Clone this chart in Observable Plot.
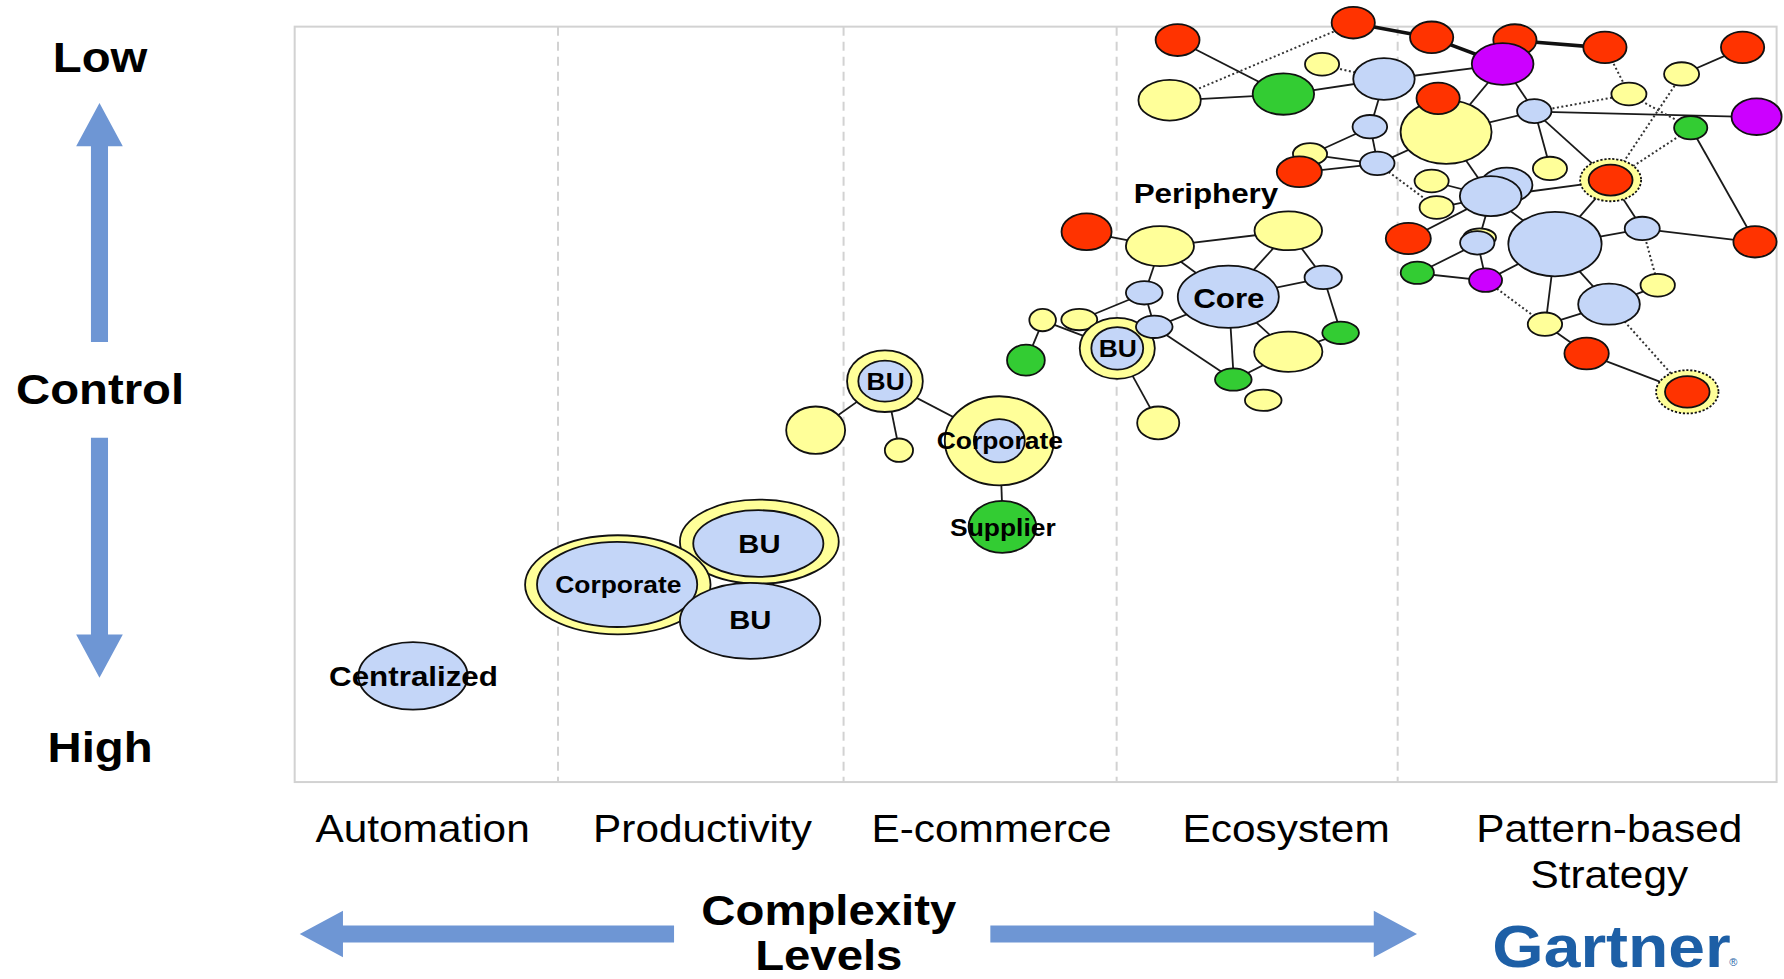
<!DOCTYPE html>
<html><head><meta charset="utf-8">
<script src="https://cdn.jsdelivr.net/npm/d3@7"></script>
<script src="https://cdn.jsdelivr.net/npm/@observablehq/plot@0.6"></script>
<style>html,body{margin:0;padding:0;background:#fff;overflow:hidden}</style>
</head><body><div id="chart"></div>
<script>
// ---------- DATA (chart units: complexity along x, control along y) ----------
const stages = ["Automation", "Productivity", "E-commerce", "Ecosystem", "Pattern-based\nStrategy"];
const stageX = [371, 617, 871, 1130, 1414];
const stageDividers = [490, 741, 981, 1228];
const frameX = [259, 1561.5];
const frameY = [23.4, 687];
const controlLabels = ["Low", "Control", "High"];
const controlY = [51, 342, 657];
const complexityTitle = "Complexity\nLevels";

// nodes: [id, x, y, rx, ry, kind]
const automationNodes = [
  ["cen", 363, 593.7, 48, 29.7, "blue"]
];
const productivityNodes = [
  ["buT_o", 667.4, 475.8, 69.8, 36.9, "yellow"],
  ["buT", 666.5, 477.5, 57.2, 29.3, "blue"],
  ["corp2_o", 543, 513.7, 81.5, 43.5, "yellow"],
  ["corp2", 542.4, 513.4, 70.4, 37.4, "blue"],
  ["buB", 659.3, 545.4, 61.7, 33.3, "blue"]
];
const ecommerceNodes = [
  ["y3a", 716.9, 377.9, 25.9, 20.8, "yellow"],
  ["y3b", 790.1, 395.5, 12.4, 10.3, "yellow"],
  ["bu3_o", 777.8, 334.8, 33.3, 27.1, "yellow"],
  ["bu3", 777.8, 334.8, 23.4, 18, "blue"],
  ["corp3_o", 878.3, 387.2, 47.9, 39.1, "yellow"],
  ["corp3", 878.3, 387.2, 22.4, 19, "blue"],
  ["sup", 881, 462.8, 29.7, 22.8, "green"]
];
const ecosystemNodes = [
  ["r4", 955, 203.6, 22, 16.1, "red"],
  ["y4a", 1019.5, 216.2, 29.9, 17.6, "yellow"],
  ["y4b", 1132.3, 202.7, 29.7, 17.1, "yellow"],
  ["core", 1079.6, 260.7, 44.4, 27.4, "blue"],
  ["b4a", 1005.7, 257.2, 16.1, 10.3, "blue"],
  ["b4b", 1163, 243.7, 16.4, 10.3, "blue"],
  ["y4c", 948.6, 280.7, 15.8, 9.4, "yellow"],
  ["y4d", 916.4, 281.2, 11.7, 9.8, "yellow"],
  ["g4a", 901.7, 316.4, 16.6, 13.6, "green"],
  ["bu4_o", 982, 306, 33, 26.8, "yellow"],
  ["bu4", 982, 306, 22.8, 18.7, "blue"],
  ["b4c", 1014.5, 287.1, 16.1, 9.8, "blue"],
  ["g4b", 1178.3, 292.4, 16.1, 9.8, "green"],
  ["y4e", 1132.3, 309, 30, 17.6, "yellow"],
  ["g4c", 1084, 333.4, 16.1, 9.8, "green"],
  ["y4f", 1110.3, 351.6, 16.1, 9.4, "yellow"],
  ["y4g", 1018, 371.5, 18.5, 14.4, "yellow"]
];
const patternNodes = [
  ["r5a", 1035, 35.2, 19.3, 14, "red"],
  ["y5a", 1028, 88, 27.4, 17.9, "yellow"],
  ["g5a", 1128, 82.6, 27, 18.2, "green"],
  ["r5b", 1189.4, 19.9, 19, 13.9, "red"],
  ["y5b", 1162, 56.5, 15, 10, "yellow"],
  ["b5a", 1216.4, 69.4, 27, 18.3, "blue"],
  ["r5c", 1258.3, 32.8, 19, 13.9, "red"],
  ["r5d", 1331.5, 35.2, 19, 13.9, "red"],
  ["p5a", 1320.7, 56.2, 27.1, 18.3, "purple"],
  ["r5e", 1410.6, 41.6, 19, 13.9, "red"],
  ["r5f", 1531.6, 41.6, 19, 13.9, "red"],
  ["yb5", 1271, 116, 40, 28, "yellow"],
  ["r5g", 1264, 86.4, 19, 13.9, "red"],
  ["b5b", 1204, 111.3, 15.2, 10.3, "blue"],
  ["b5c", 1210.5, 143.5, 15.2, 10.3, "blue"],
  ["y5c", 1151.4, 135.3, 15, 9.5, "yellow"],
  ["r5h", 1142, 150.9, 19.8, 13.5, "red"],
  ["y5d", 1258.3, 159, 15, 10, "yellow"],
  ["y5e", 1262.7, 182.2, 15, 10, "yellow"],
  ["r5i", 1237.8, 209.5, 19.8, 13.8, "red"],
  ["g5b", 1245.7, 239.6, 14.6, 9.8, "green"],
  ["y5f", 1478, 65, 15.4, 10.3, "yellow"],
  ["y5g", 1431.7, 82.6, 15.4, 10, "yellow"],
  ["b5d", 1348.5, 97.6, 15.1, 10.5, "blue"],
  ["p5b", 1543.9, 102.5, 22, 16.1, "purple"],
  ["g5c", 1486, 112.2, 14.6, 10.3, "green"],
  ["y5h", 1362.3, 148, 15, 10.3, "yellow"],
  ["rr5a_o", 1415.6, 158.2, 26.8, 18.6, "ring"],
  ["rr5a", 1415.6, 158.2, 19.3, 13.6, "red"],
  ["b5e", 1324.2, 162.6, 22.7, 15.4, "blue"],
  ["b5f", 1310.2, 172.3, 27.1, 17.6, "blue"],
  ["y5i", 1300.5, 208.7, 14.4, 8, "yellow"],
  ["b5g", 1298.4, 213.3, 15.1, 10.3, "blue"],
  ["bb5", 1366.7, 214.4, 41, 28.3, "blue"],
  ["b5h", 1443.4, 200.7, 15.4, 10.3, "blue"],
  ["r5j", 1542.5, 212.4, 19, 13.8, "red"],
  ["p5c", 1305.7, 246.1, 14.5, 10.3, "purple"],
  ["y5j", 1457, 250.5, 15.1, 10, "yellow"],
  ["b5i", 1414.2, 267.2, 27.1, 18, "blue"],
  ["y5k", 1357.9, 284.8, 15.1, 10.3, "yellow"],
  ["r5k", 1394.5, 310.5, 19.5, 14, "red"],
  ["rr5b_o", 1483, 344.2, 27.4, 19, "ring"],
  ["rr5b", 1483, 344.2, 19.6, 13.8, "red"]
];

// edges: [from, to]
const solidEdges = [
  ["bu3_o","y3a"],["bu3_o","y3b"],["bu3_o","corp3_o"],["corp3_o","sup"],
  ["r4","y4a"],["y4a","y4b"],["y4a","b4a"],["y4a","core"],["y4b","core"],["y4b","b4b"],
  ["core","b4b"],["core","b4c"],["core","g4c"],["core","y4e"],["b4b","g4b"],["b4a","y4c"],
  ["b4a","b4c"],["y4d","g4a"],["y4d","bu4_o"],["bu4_o","y4g"],["b4c","g4c"],["g4c","y4e"],["y4e","g4b"],
  ["r5a","g5a"],["y5a","g5a"],["g5a","b5a"],["b5a","p5a"],["b5a","b5b"],["p5a","yb5"],["p5a","b5d"],
  ["b5d","p5b"],["y5f","r5f"],["g5c","r5j"],["b5d","yb5"],["b5d","y5h"],["b5d","rr5a_o"],["b5b","b5c"],
  ["b5b","y5c"],["y5c","b5c"],["r5h","b5c"],["b5c","yb5"],["yb5","b5f"],["b5f","rr5a_o"],["y5d","b5f"],
  ["y5e","b5f"],["r5i","b5f"],["b5f","b5g"],["b5f","bb5"],["b5g","g5b"],["g5b","p5c"],["b5g","p5c"],
  ["p5c","bb5"],["bb5","y5k"],["y5k","b5i"],["y5k","r5k"],["bb5","b5i"],["bb5","b5h"],["bb5","rr5a_o"],
  ["rr5a_o","b5h"],["b5h","r5j"],["b5i","y5j"],["r5k","rr5b_o"]
];
const dottedEdges = [
  ["y5a","r5b"],["y5b","b5a"],["r5e","y5g"],["y5g","g5c"],["b5d","y5g"],["y5f","rr5a_o"],
  ["g5c","rr5a_o"],["b5c","y5e"],["b5h","y5j"],["p5c","y5k"],["b5i","rr5b_o"]
];
const thickEdges = [["r5b","r5c"],["r5c","p5a"],["r5d","r5e"]];

// node labels: [text, x, y, tier]
const nodeLabels = [
  ["Centralized", 363, 594.5, "large"],
  ["Corporate", 543, 514, "small"],
  ["BU", 667, 478, "mid"],
  ["BU", 659, 545, "mid"],
  ["BU", 778, 335.5, "small"],
  ["Corporate", 878.3, 387.5, "small"],
  ["Supplier", 881, 463.5, "small"],
  ["Periphery", 1059.5, 170, "large"],
  ["Core", 1079.6, 262, "large"],
  ["BU", 982, 306.5, "small"]
];

// block arrows: [id, tailX, tailY, tipX, tipY]
const arrows = [
  ["up", 87, 300, 87, 90],
  ["down", 87, 384, 87, 595],
  ["left", 592, 820, 263, 820],
  ["right", 870, 820, 1245, 820]
];

// ---------- STYLE ----------
const FILL = {blue: "#c4d6f8", yellow: "#ffff99", red: "#ff3300", green: "#33cc33", purple: "#cc00ff", ring: "#ffff99"};
const ARROW = "#6e96d4";
const FONT = "Liberation Sans, Arial, Helvetica, sans-serif";
const LABEL_SIZE = {large: 28.5, mid: 26.5, small: 24};
const ARROW_GEOM = {shaftHalf: 7.5, headHalf: 20.5, headLen: 38};
const STRETCH = 1.1;

// ---------- BUILD ----------
const toNode = ([id, x, y, rx, ry, kind]) => ({id, x, y, rx, ry, kind});
const nodes = [automationNodes, productivityNodes, ecommerceNodes, ecosystemNodes, patternNodes].flat().map(toNode);
const byId = new Map(nodes.map(d => [d.id, d]));
const toEdge = ([a, b]) => ({x1: byId.get(a).x, y1: byId.get(a).y, x2: byId.get(b).x, y2: byId.get(b).y});

const arrowPts = arrows.flatMap(([id, tx, ty, hx, hy]) => {
  const L = Math.hypot(hx - tx, hy - ty), dx = (hx - tx) / L, dy = (hy - ty) / L, nx = -dy, ny = dx;
  const {shaftHalf: s, headHalf: h, headLen: l} = ARROW_GEOM;
  const bx = hx - dx * l, by = hy - dy * l;
  return [
    [tx + nx * s, ty + ny * s], [bx + nx * s, by + ny * s], [bx + nx * h, by + ny * h], [hx, hy],
    [bx - nx * h, by - ny * h], [bx - nx * s, by - ny * s], [tx - nx * s, ty - ny * s]
  ].map(([x, y]) => ({id, x, y}));
});

const ellipseMark = (data) => (index, scales) => {
  const {x, y} = scales;
  const g = d3.create("svg:g").attr("aria-label", "nodes");
  g.selectAll("ellipse").data(data).join("ellipse")
    .attr("cx", d => x(d.x)).attr("cy", d => y(d.y))
    .attr("rx", d => Math.abs(x(d.x + d.rx) - x(d.x)))
    .attr("ry", d => Math.abs(y(d.y + d.ry) - y(d.y)))
    .attr("fill", d => FILL[d.kind])
    .attr("stroke", "#111")
    .attr("stroke-width", 1.8)
    .attr("stroke-dasharray", d => d.kind === "ring" ? "2.2,1.8" : null);
  return g.node();
};

const chart = Plot.plot({
  width: 1784, height: 979,
  margin: 0,
  x: {type: "linear", domain: [0, 1568], range: [0, 1784], axis: null},
  y: {type: "linear", domain: [0, 860], range: [0, 979], axis: null},
  style: {background: "#fff", fontFamily: FONT},
  marks: [
    Plot.rect([0], {x1: () => frameX[0], x2: () => frameX[1], y1: () => frameY[0], y2: () => frameY[1], fill: "none", stroke: "#d2d2d2", strokeWidth: 2}),
    Plot.ruleX(stageDividers, {x: d => d, y1: () => frameY[0], y2: () => frameY[1], stroke: "#d2d2d2", strokeWidth: 2, strokeDasharray: "9,6"}),
    Plot.line(arrowPts, {x: "x", y: "y", z: "id", fill: ARROW, stroke: "none", curve: "linear-closed"}),
    Plot.link(solidEdges.map(toEdge), {x1: "x1", y1: "y1", x2: "x2", y2: "y2", stroke: "#1a1a1a", strokeWidth: 1.8}),
    Plot.link(dottedEdges.map(toEdge), {x1: "x1", y1: "y1", x2: "x2", y2: "y2", stroke: "#333", strokeWidth: 2, strokeDasharray: "2,2.5"}),
    Plot.link(thickEdges.map(toEdge), {x1: "x1", y1: "y1", x2: "x2", y2: "y2", stroke: "#111", strokeWidth: 3.6}),
    ellipseMark(nodes),
    Plot.text(nodeLabels, {x: d => d[1], y: d => d[2], text: d => d[0], fontSize: d => LABEL_SIZE[d[3]], fontWeight: "bold", fill: "#000", fontFamily: FONT}),
    Plot.text(controlLabels, {x: () => 87.5, y: (d, i) => controlY[i], text: d => d, fontSize: 43, fontWeight: "bold", fill: "#000", fontFamily: FONT}),
    Plot.text(stages, {x: (d, i) => stageX[i], y: () => 711, text: d => d, lineAnchor: "top", lineHeight: 1.18, fontSize: 38.5, fill: "#000", fontFamily: FONT}),
    Plot.text([complexityTitle], {x: () => 728, y: () => 819, text: d => d, lineAnchor: "middle", lineHeight: 1.06, fontSize: 43, fontWeight: "bold", fill: "#000", fontFamily: FONT}),
    Plot.text(["Gartner"], {x: () => 1416, y: () => 832, text: d => d, fontSize: 60, fontWeight: "bold", fill: "#1d5fa6", fontFamily: FONT}),
    Plot.text(["®"], {x: () => 1523, y: () => 845, text: d => d, fontSize: 11, fill: "#1d5fa6", fontFamily: FONT})
  ]
});

// slight horizontal stretch of the original lettering
const plain = new Set(["®"]);
for (const t of chart.querySelectorAll("text")) {
  if (plain.has(t.textContent)) continue;
  const tr = t.getAttribute("transform") || "";
  t.setAttribute("transform", tr + ` scale(${STRETCH},1)`);
}
document.getElementById("chart").appendChild(chart);
</script>
</body></html>
